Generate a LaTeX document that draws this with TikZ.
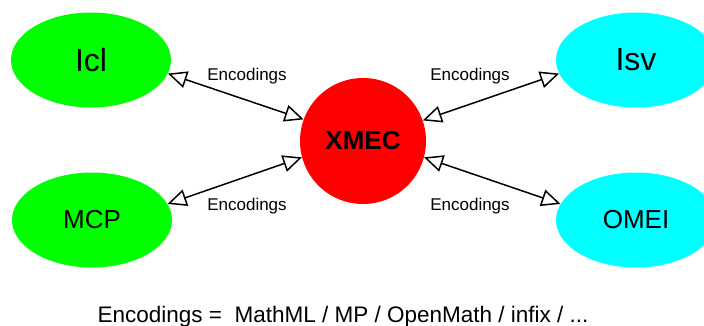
\documentclass[tikz,border=0pt]{standalone}
\usepackage{fontspec}
\setmainfont{Liberation Sans}
\usetikzlibrary{arrows.meta,shapes.geometric}
\definecolor{peergreen}{RGB}{0,255,0}
\definecolor{peercyan}{RGB}{0,255,255}
\definecolor{hubred}{RGB}{255,0,0}
\begin{document}
\begin{tikzpicture}[x=1pt,y=-1pt,
  partner/.style={ellipse, minimum width=160pt, minimum height=95pt, inner sep=0pt},
  bigname/.style={font=\fontsize{32}{36}\selectfont},
  midname/.style={font=\fontsize{26}{30}\selectfont},
  hub/.style={circle, fill=hubred, minimum size=126pt, inner sep=0pt,
    font=\bfseries\fontsize{26}{30}\selectfont},
  link/.style={line width=1.5pt,
    {Triangle[open,length=19pt,width=17pt]}-{Triangle[open,length=19pt,width=17pt]}},
  lbl/.style={font=\fontsize{17}{20}\selectfont, anchor=base, inner sep=0pt}]
\useasboundingbox (0,0) rectangle (704,326);

% partners and hub
\node[partner, fill=peergreen, bigname] (icl)  at (91,60)   {Icl};
\node[partner, fill=peergreen, midname] (mcp)  at (92,220)  {MCP};
\node[partner, fill=peercyan,  bigname] (isv)  at (636,60)  {Isv};
\node[partner, fill=peercyan,  midname] (omei) at (636,220) {OMEI};
\node[hub] (xmec) at (363,141) {XMEC};

% encoding links
\draw[link] (icl.-10.5)  -- (xmec.160.5);
\draw[link] (mcp.12)     -- (xmec.195);
\draw[link] (isv.190.5)  -- (xmec.19.5);
\draw[link] (omei.168)   -- (xmec.-15);

% link labels
\node[lbl] (lt) at (247,81)  {Encodings};
\node[lbl] (rt) at (470,81)  {Encodings};
\node[lbl] (lb) at (247,210) {Encodings};
\node[lbl] (rb) at (470,210) {Encodings};

% legend
\node[anchor=base, inner sep=0pt, font=\fontsize{22.5}{26}\selectfont] (legend) at (343,322)
  {Encodings =\ \ MathML / MP / OpenMath / infix / ...};
\end{tikzpicture}
\end{document}
